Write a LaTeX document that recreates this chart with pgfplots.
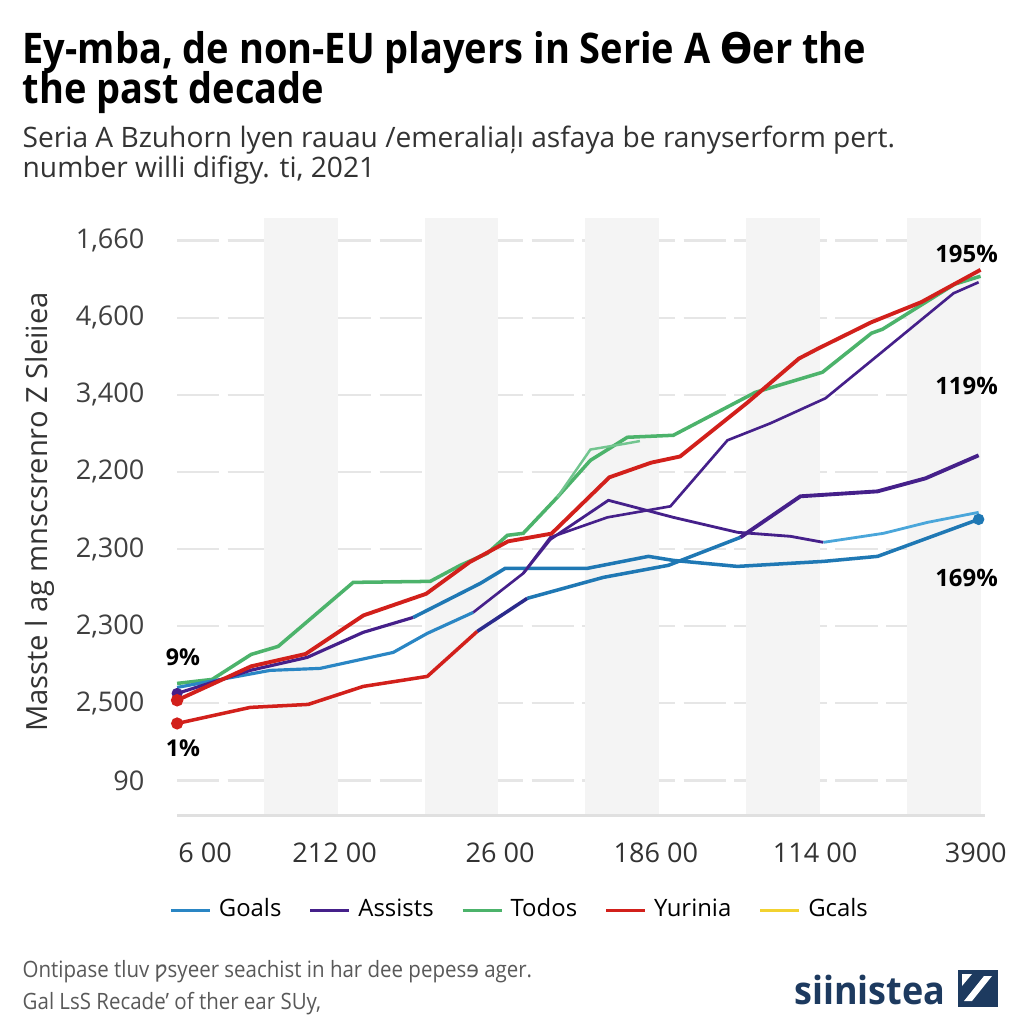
\documentclass[border=0pt]{standalone}
\usepackage{fontspec}
\setmainfont{Open Sans}
\newfontfamily\dv{DejaVu Sans}
\usepackage{graphicx}
\usepackage{pgfplots}
\pgfplotsset{compat=1.18}

\definecolor{cgreen}{HTML}{4CB36B}
\definecolor{cgreenl}{HTML}{72C58F}
\definecolor{cred}{HTML}{D2201B}
\definecolor{cpurple}{HTML}{45208A}
\definecolor{cnavy}{HTML}{2B2B8C}
\definecolor{cblue}{HTML}{2A86C4}
\definecolor{cbluel}{HTML}{4AA6DA}
\definecolor{cbluedk}{HTML}{1F78B4}
\definecolor{cyellow}{HTML}{F2D230}
\definecolor{band}{HTML}{F4F4F4}
\definecolor{gridc}{HTML}{E6E6E6}
\definecolor{logo}{HTML}{1D3A5F}

\begin{document}
\begin{tikzpicture}
\begin{scope}[x=0.01cm,y=-0.01cm]
  \useasboundingbox (0,0) rectangle (1024,1024);
  \fill[white] (0,0) rectangle (1024,1024);
  % title and subtitle
  \node[anchor=base west, inner sep=0, font=\bfseries\fontsize{12pt}{13pt}\selectfont] at (22,64)
    {\scalebox{0.9}[1]{Ey-mba, de non-EU players in Serie A {\dv Ɵ}er the}};
  \node[anchor=base west, inner sep=0, font=\bfseries\fontsize{12pt}{13pt}\selectfont] at (22,103)
    {\scalebox{0.9}[1]{the past decade}};
  \node[anchor=base west, inner sep=0, text=black!80, font=\fontsize{8pt}{9pt}\selectfont] at (22,147)
    {Seria A Bzuhorn lyen rauau /emeraliaļı asfaya be ranyserform pert.};
  \node[anchor=base west, inner sep=0, text=black!80, font=\fontsize{8pt}{9pt}\selectfont] at (22,177)
    {number willi difigy. ti, 2021};
  % y label
  \node[rotate=90, inner sep=0, text=black!80, font=\fontsize{8.3pt}{9pt}\selectfont] at (40,512)
    {Masste l ag mnscsrenro Z Sleiiea};
  % footer
  \node[anchor=base west, inner sep=0, text=black!65, font=\fontsize{6.4pt}{8pt}\selectfont] at (22,977)
    {\scalebox{0.91}[1]{Ontipase tluv {\dv ƿ}syeer seachist in har dee pepes{\dv ɘ} ager.}};
  \node[anchor=base west, inner sep=0, text=black!65, font=\fontsize{6.4pt}{8pt}\selectfont] at (22,1009)
    {\scalebox{0.91}[1]{Gal LsS Recade' of ther ear SUy,}};
  % logo
  \node[anchor=base east, inner sep=0, text=logo, font=\bfseries\fontsize{11pt}{12pt}\selectfont] at (946,1004)
    {\scalebox{0.93}[1]{siinistea}};
  \fill[logo] (958,970) rectangle (998,1007);
  \fill[white] (964,1001) -- (972,1001) -- (992,976) -- (984,976) -- cycle;
  \fill[white] (962,974) -- (972,974) -- (962,986) -- cycle;
\end{scope}

\begin{axis}[
  at={(1.77cm,-8.15cm)}, anchor=south west,
  scale only axis, width=8.07cm, height=5.97cm,
  xmin=0, xmax=5.025, ymin=-0.454, ymax=7.29,
  axis line style={draw=none}, tick style={draw=none},
  ytick={0,1,2,3,4,5,6,7},
  yticklabels={90,{2,500},{2,300},{2,300},{2,200},{3,400},{4,600},{1,660}},
  xtick={0.174,0.98,2.01,2.98,3.97,4.97},
  xticklabels={6 00,212 00,26 00,186 00,114 00,3900},
  yticklabel style={font=\fontsize{7.7pt}{9pt}\selectfont, text=black!75, anchor=east, inner sep=0pt, xshift=-0.32cm},
  xticklabel style={font=\fontsize{7.7pt}{9pt}\selectfont, text=black!80, anchor=north, inner sep=0pt, yshift=-0.27cm},
  ymajorgrids, grid style={gridc, line width=0.6pt, dash pattern=on 12pt off 2.4pt},
  legend style={at={(rel axis cs:0.427,-0.159)}, anchor=center, draw=none, fill=none,
    font=\fontsize{6.8pt}{8pt}\selectfont, /tikz/every even column/.append style={column sep=0.2cm}},
  legend columns=5,
  legend image code/.code={\draw[#1, line width=1.1pt] (0cm,0cm) -- (0.39cm,0cm);},
  clip=false,
]
% background bands
\foreach \k in {1,2,3,4,5} {
  \edef\tmp{\noexpand\fill[band] (axis cs:\k-0.46,-0.454) rectangle (axis cs:\k,7.29);}
  \tmp
}
\draw[black!12, line width=0.6pt] (rel axis cs:0,0) -- (rel axis cs:1,0);

% green thick (Todos)
\addplot[forget plot, color=cgreen, line width=1pt] coordinates {
(0,1.258) (0.218,1.310) (0.461,1.634) (0.629,1.738) (1.096,2.568) (1.575,2.581)
(1.762,2.789) (1.930,2.944) (2.055,3.178) (2.154,3.204) (2.366,3.671) (2.572,4.150)
(2.802,4.449) (3.088,4.475) (3.599,5.032) (4.016,5.292) (4.321,5.798) (4.390,5.850)
(4.838,6.433) (5.0,6.537)};
% green thin
\addplot[forget plot, color=cgreenl, line width=0.7pt] coordinates {
(2.366,3.671) (2.572,4.29) (2.80,4.37) (2.88,4.40)};

% blue -> purple thin (to top)
\addplot[forget plot, color=cblue, line width=0.9pt] coordinates {
(0,1.206) (0.579,1.427) (0.890,1.453) (1.345,1.660) (1.557,1.907) (1.843,2.179)};
\addplot[forget plot, color=cpurple, line width=0.75pt] coordinates {
(1.843,2.179) (2.154,2.685) (2.323,3.152) (2.678,3.411) (3.07,3.554) (3.425,4.410)
(3.692,4.630) (4.035,4.955) (4.377,5.538) (4.832,6.316) (4.988,6.459)};

% purple -> light blue (lower end)
\addplot[forget plot, color=cpurple, line width=0.9pt, mark=*, mark size=1.1pt, mark indices={1}] coordinates {
(0,1.128) (0.455,1.427) (0.809,1.595) (1.158,1.920) (1.470,2.114)};
\addplot[forget plot, color=cbluedk, line width=1pt, mark=*, mark size=1.1pt, mark indices={10}] coordinates {
(1.470,2.114) (1.887,2.555) (2.042,2.750) (2.553,2.750) (2.933,2.905) (3.088,2.853)
(3.487,2.775) (4.022,2.840) (4.359,2.905) (4.988,3.385)};

% purple peak -> light blue end
\addplot[forget plot, color=cpurple, line width=0.8pt] coordinates {
(2.154,2.685) (2.323,3.126) (2.684,3.632) (3.088,3.411) (3.487,3.217) (3.817,3.165) (4.022,3.087)};
\addplot[forget plot, color=cbluel, line width=0.8pt] coordinates {
(4.022,3.087) (4.396,3.204) (4.670,3.346) (4.988,3.476)};

% red lower -> navy -> blue -> purple thick
\addplot[forget plot, color=cred, line width=1pt, mark=*, mark size=1.2pt, mark indices={1}] coordinates {
(0,0.739) (0.455,0.947) (0.816,0.986) (1.158,1.219) (1.557,1.349) (1.868,1.933)};
\addplot[forget plot, color=cnavy, line width=1pt] coordinates {
(1.868,1.933) (2.179,2.361)};
\addplot[forget plot, color=cbluedk, line width=1pt] coordinates {
(2.179,2.361) (2.653,2.633) (3.057,2.789) (3.506,3.152)};
\addplot[forget plot, color=cpurple, line width=1.1pt] coordinates {
(3.506,3.152) (3.879,3.684) (4.359,3.748) (4.658,3.917) (4.988,4.215)};

% red upper (Yurinia)
\addplot[forget plot, color=cred, line width=1.1pt, mark=*, mark size=1.2pt, mark indices={1}] coordinates {
(0,1.04) (0.461,1.48) (0.80,1.64) (1.16,2.14) (1.55,2.42) (1.82,2.83) (2.06,3.10)
(2.33,3.20) (2.69,3.93) (2.95,4.12) (3.13,4.20) (3.55,4.90) (3.87,5.47) (3.99,5.60)
(4.32,5.94) (4.63,6.20) (5.0,6.62)};

% annotations
\node[anchor=west, inner sep=0, font=\bfseries\fontsize{6.6pt}{8pt}\selectfont] at (axis cs:-0.075,1.595) {9\%};
\node[anchor=west, inner sep=0, font=\bfseries\fontsize{6.6pt}{8pt}\selectfont] at (axis cs:-0.075,0.415) {1\%};
\node[inner sep=0, font=\bfseries\fontsize{6.8pt}{8pt}\selectfont] at (axis cs:4.913,6.82) {195\%};
\node[inner sep=0, font=\bfseries\fontsize{6.8pt}{8pt}\selectfont] at (axis cs:4.913,5.11) {119\%};
\node[inner sep=0, font=\bfseries\fontsize{6.8pt}{8pt}\selectfont] at (axis cs:4.913,2.62) {169\%};

% legend
\addlegendimage{color=cblue}
\addlegendentry{Goals}
\addlegendimage{color=cpurple}
\addlegendentry{Assists}
\addlegendimage{color=cgreen}
\addlegendentry{Todos}
\addlegendimage{color=cred}
\addlegendentry{Yurinia}
\addlegendimage{color=cyellow}
\addlegendentry{Gcals}
\end{axis}
\end{tikzpicture}
\end{document}
